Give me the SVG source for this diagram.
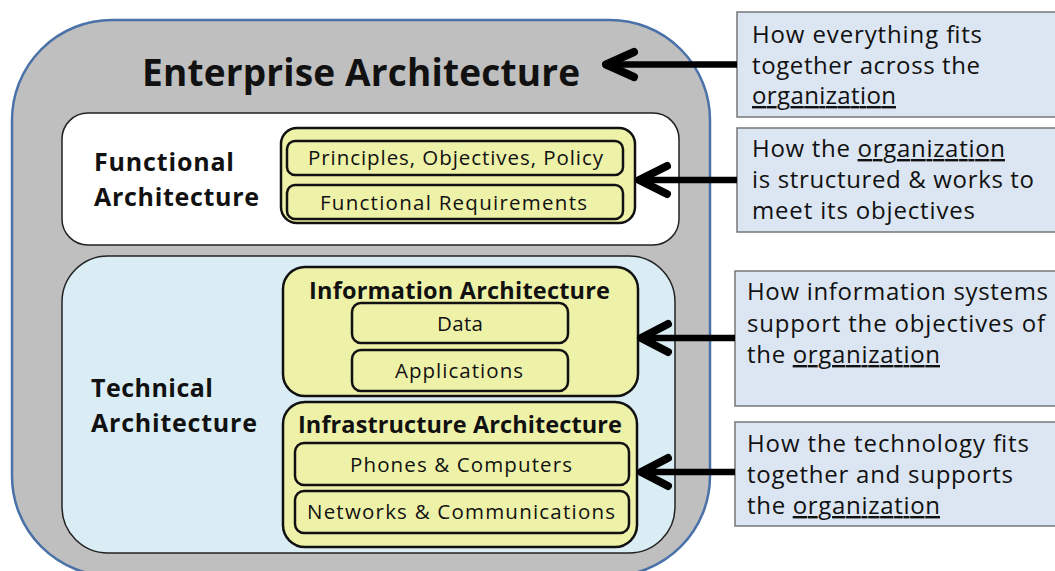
<svg xmlns="http://www.w3.org/2000/svg" width="1055" height="571" viewBox="0 0 1055 571">
<style>
.t{font-family:"Open Sans","Noto Sans","Liberation Sans",sans-serif;fill:#111}
.b{font-weight:bold}
.r{font-size:24px}
.y{font-size:20.5px;text-anchor:middle}
.ybox{fill:#eef2a9;stroke:#111;stroke-width:2.5}
.note{fill:#dce6f2;stroke:#777;stroke-width:1.5}
.shaft{stroke:#000;stroke-width:6.5;fill:none}
.head{stroke:#000;stroke-width:8;fill:none;stroke-linecap:round;stroke-linejoin:round}
.u{text-decoration:underline}
</style>
<g id="enterprise">
<rect x="12" y="20" width="698" height="556" rx="100" fill="#bfbfbf" stroke="#4a72a8" stroke-width="2.5"/>
<text class="t b" x="142" y="86" font-size="37" textLength="438">Enterprise Architecture</text>
</g>
<g id="functional">
<rect x="62" y="113" width="617" height="132" rx="26" fill="#fff" stroke="#222" stroke-width="1.5"/>
<text class="t b" x="94" y="171" font-size="25" textLength="140">Functional</text>
<text class="t b" x="94" y="206" font-size="25" textLength="165">Architecture</text>
</g>
<g id="functional-items">
<rect class="ybox" x="281" y="128" width="354" height="95" rx="16"/>
<rect class="ybox" x="287" y="141" width="336" height="34" rx="8"/>
<text class="t y" x="455.5" y="165" textLength="295">Principles, Objectives, Policy</text>
<rect class="ybox" x="287" y="185" width="336" height="34" rx="8"/>
<text class="t y" x="453.5" y="210" textLength="267">Functional Requirements</text>
</g>
<g id="technical">
<rect x="62" y="256" width="613" height="297" rx="46" fill="#daedf4" stroke="#222" stroke-width="1.5"/>
<text class="t b" x="91" y="397" font-size="25" textLength="122">Technical</text>
<text class="t b" x="91" y="432" font-size="25" textLength="166">Architecture</text>
</g>
<g id="information">
<rect class="ybox" x="283" y="267" width="355" height="129" rx="22"/>
<text class="t b" x="459.5" y="299" font-size="23.5" text-anchor="middle" textLength="301">Information Architecture</text>
<rect class="ybox" x="352" y="303" width="216" height="40" rx="9"/>
<text class="t y" x="460" y="331" textLength="46">Data</text>
<rect class="ybox" x="352" y="350" width="216" height="41" rx="9"/>
<text class="t y" x="459" y="378" textLength="128">Applications</text>
</g>
<g id="infrastructure">
<rect class="ybox" x="283" y="402" width="354" height="145" rx="22"/>
<text class="t b" x="460" y="433" font-size="23.5" text-anchor="middle" textLength="324">Infrastructure Architecture</text>
<rect class="ybox" x="295" y="443" width="334" height="42" rx="9"/>
<text class="t y" x="461" y="472" textLength="222">Phones &amp; Computers</text>
<rect class="ybox" x="295" y="491" width="334" height="42" rx="9"/>
<text class="t y" x="461" y="519" textLength="308">Networks &amp; Communications</text>
</g>
<g id="note1">
<rect class="note" x="737" y="12" width="330" height="105"/>
<text class="t r" x="752" y="43" textLength="230">How everything fits</text>
<text class="t r" x="752" y="74" textLength="228">together across the</text>
<text class="t r" x="752" y="104" textLength="144"><tspan class="u">organization</tspan></text>
</g>
<g id="note2">
<rect class="note" x="737" y="128" width="330" height="104"/>
<text class="t r" x="752" y="157" textLength="253">How the <tspan class="u">organization</tspan></text>
<text class="t r" x="752" y="188" textLength="282">is structured &amp; works to</text>
<text class="t r" x="752" y="219" textLength="223">meet its objectives</text>
</g>
<g id="note3">
<rect class="note" x="735" y="271" width="330" height="135"/>
<text class="t r" x="747" y="300" textLength="301">How information systems</text>
<text class="t r" x="747" y="332" textLength="298">support the objectives of</text>
<text class="t r" x="747" y="363" textLength="193">the <tspan class="u">organization</tspan></text>
</g>
<g id="note4">
<rect class="note" x="735" y="422" width="330" height="104"/>
<text class="t r" x="747" y="452" textLength="282">How the technology fits</text>
<text class="t r" x="747" y="483" textLength="266">together and supports</text>
<text class="t r" x="747" y="514" textLength="193">the <tspan class="u">organization</tspan></text>
</g>
<g id="connectors">
<line class="shaft" x1="737" y1="64.5" x2="608" y2="64.5"/>
<polyline class="head" points="634,52 606,64.5 634,77"/>
<line class="shaft" x1="737" y1="180" x2="640" y2="180"/>
<polyline class="head" points="667,166 639,180 667,194"/>
<line class="shaft" x1="735" y1="338" x2="642" y2="338"/>
<polyline class="head" points="668,324 641,338 668,352"/>
<line class="shaft" x1="735" y1="472" x2="642" y2="472"/>
<polyline class="head" points="668,458 641,472 668,486"/>
</g>
</svg>
